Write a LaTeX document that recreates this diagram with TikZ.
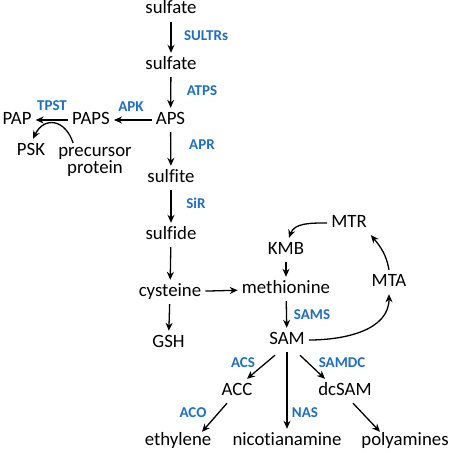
\documentclass[tikz,border=0pt]{standalone}
\usepackage{fontspec}
\setmainfont{Carlito}[Ligatures=NoCommon]
\usetikzlibrary{arrows.meta, positioning}
\definecolor{enzblue}{HTML}{1F6FC1}

\begin{document}
\begin{tikzpicture}[
			x=1pt, y=1pt,
			mtext/.style={inner sep=4pt, font=\fontsize{18.8}{17.5}\selectfont},
			metab/.style={mtext, text height=12pt, text depth=4pt},
			enz/.style={inner sep=1pt, text=enzblue, font=\fontsize{15}{16}\selectfont\bfseries},
			arr/.style={-{Stealth[length=8pt, width=7pt]}, line width=1.3pt}
			]
			\useasboundingbox (0,0) rectangle (454,-452);
			% sulfate assimilation
			\node[metab] (sulfA) at (171,-10) {sulfate};
			\node[metab] (sulfB) at (171,-65) {sulfate};
			\node[metab] (APS) at (170.5,-120) {APS};
			\node[metab] (PAPS) at (91,-120) {PAPS};
			\node[metab] (PAP) at (17,-120) {PAP};
			\node[metab] (PSK) at (31,-151) {PSK};
			\node[mtext, align=center] (prec) at (95,-162) {precursor\\protein};
			\node[metab] (sulfite) at (171,-178) {sulfite};
			\node[metab] (sulfide) at (171,-235) {sulfide};
			\node[metab] (cys) at (170,-292) {cysteine};
			\node[metab] (GSH) at (168.5,-343) {GSH};
			% methionine cycle
			\node[metab] (meth) at (286,-289) {methionine};
			\node[metab] (KMB) at (286,-250) {KMB};
			\node[metab] (MTR) at (349,-223) {MTR};
			\node[metab] (MTA) at (389,-282) {MTA};
			\node[metab] (SAM) at (287,-340) {SAM};
			\node[metab] (ACC) at (237,-391) {ACC};
			\node[metab] (dcSAM) at (345,-391) {dcSAM};
			\node[metab] (ethyl) at (178,-441) {ethylene};
			\node[metab] (nicot) at (287,-441) {nicotianamine};
			\node[metab] (poly) at (405,-441) {polyamines};
			% enzymes
			\node[enz] (eSULTR) at (206,-36) {SULTRs};
			\node[enz] (eATPS) at (202,-91) {ATPS};
			\node[enz] (eAPK) at (131,-107) {APK};
			\node[enz] (eTPST) at (52,-106) {TPST};
			\node[enz] (eAPR) at (202,-145) {APR};
			\node[enz] (eSiR) at (196,-203) {SiR};
			\node[enz] (eSAMS) at (312,-315) {SAMS};
			\node[enz] (eACS) at (243,-363) {ACS};
			\node[enz] (eSAMDC) at (342,-363) {SAMDC};
			\node[enz] (eACO) at (193,-413) {ACO};
			\node[enz] (eNAS) at (305,-413) {NAS};
			% reactions
			\draw[arr] (sulfA) -- (sulfB);
			\draw[arr] (sulfB) -- (APS);
			\draw[arr] (APS) -- (PAPS);
			\draw[arr] (PAPS) -- (PAP);
			\draw[arr] ([xshift=19pt]prec.north west) to[out=108, in=64, looseness=1.6] ([xshift=2pt]PSK.north);
			\draw[arr] (APS) -- (sulfite);
			\draw[arr] (sulfite) -- (sulfide);
			\draw[arr] (sulfide) -- (cys);
			\draw[arr] (cys) -- (meth);
			\draw[arr] (cys) -- (GSH);
			\draw[arr] (KMB) -- (meth);
			\draw[arr] (meth) -- (SAM);
			\draw[arr] (SAM) -- (nicot);
			\draw[arr] ([xshift=-12pt,yshift=-3pt]SAM.south) -- ([xshift=10pt]ACC.north);
			\draw[arr] ([xshift=13pt,yshift=-3pt]SAM.south) -- ([xshift=-20pt]dcSAM.north);
			\draw[arr] ([xshift=-10pt]ACC.south) -- ([xshift=24pt,yshift=-3pt]ethyl.north);
			\draw[arr] ([xshift=8pt]dcSAM.south) -- ([xshift=-25pt,yshift=-3pt]poly.north);
			\draw[arr] (SAM.east) to[out=0, in=-90] (MTA.south);
			\draw[arr] (MTA.north) to[out=100, in=-50] (MTR.south east);
			\draw[arr] (MTR.west) to[out=180, in=70] ([xshift=3pt]KMB.north);
		\end{tikzpicture}
\end{document}
